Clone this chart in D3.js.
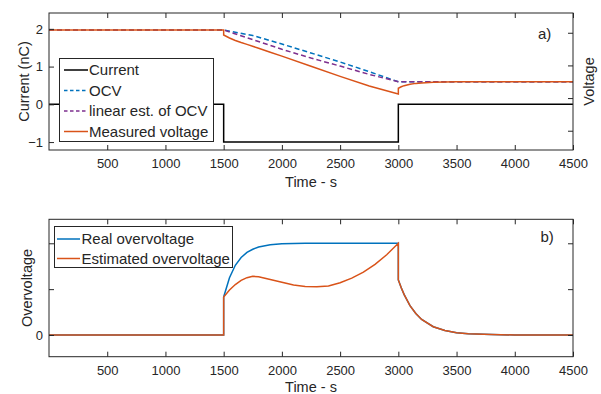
<!DOCTYPE html>
<meta charset="utf-8">
<head>
<script src="https://d3js.org/d3.v7.min.js"></script>
<style>
  body { margin: 0; background: #fff; }
  text { font-family: "Liberation Sans", Arial, sans-serif; fill: #262626; }
</style>
</head>
<body>
<svg width="601" height="394"></svg>
<script>
// ---- data ----
var xTicks = [500, 1000, 1500, 2000, 2500, 3000, 3500, 4000, 4500];
var currentTicks = [-1, 0, 1, 2];
var voltTicks = [3.4, 3.6, 3.8, 4.0];
var overTicks = [0, 1, 2];

var timeCurrent = [0, 1500, 1500, 3000, 3000, 4500];
var current = [0, 0, -1, -1, 0, 0];

var timeOcv = [0, 1500, 1750, 2000, 2250, 2500, 2750, 3000, 4500];
var ocv = [4.017, 4.017, 3.983, 3.931, 3.876, 3.821, 3.762, 3.700, 3.700];

var timeLinOcv = [0, 1500, 1750, 2000, 2250, 2500, 2750, 3000, 4500];
var linOcv = [4.017, 4.017, 3.958, 3.899, 3.845, 3.796, 3.745, 3.700, 3.700];

var timeMeas = [0, 1500, 1500, 1550, 1600, 1650, 1700, 1800, 1900, 2000, 2250, 2500, 2750, 3000,
                3000, 3025, 3050, 3100, 3150, 3200, 3300, 3400, 3500, 4500];
var measured = [4.017, 4.017, 3.986, 3.968, 3.953, 3.940, 3.929, 3.905, 3.881, 3.857, 3.795, 3.733, 3.674, 3.625,
                3.660, 3.669, 3.676, 3.685, 3.690, 3.693, 3.697, 3.699, 3.700, 3.700];

var timeReal = [0, 1500, 1500, 1550, 1600, 1650, 1700, 1750, 1800, 1900, 2000, 2200, 3000,
                3000, 3025, 3050, 3100, 3150, 3200, 3300, 3400, 3500, 3600, 3800, 4000, 4500];
var realOver = [0, 0, 0.83, 1.25, 1.52, 1.69, 1.80, 1.87, 1.92, 1.97, 1.99, 2.0, 2.0,
                1.2, 1.03, 0.88, 0.64, 0.47, 0.34, 0.18, 0.10, 0.05, 0.03, 0.01, 0, 0];

var timeEst = [0, 1500, 1500, 1550, 1600, 1650, 1700, 1750, 1800, 1900, 2000, 2100, 2200, 2300, 2400,
               2500, 2600, 2700, 2800, 2900, 3000,
               3000, 3025, 3050, 3100, 3150, 3200, 3300, 3400, 3500, 3600, 3800, 4000, 4500];
var estOver = [0, 0, 0.83, 0.98, 1.10, 1.19, 1.25, 1.28, 1.27, 1.21, 1.15, 1.09, 1.06, 1.05, 1.07,
               1.14, 1.24, 1.37, 1.54, 1.75, 2.0,
               1.2, 1.03, 0.88, 0.64, 0.47, 0.34, 0.18, 0.10, 0.05, 0.03, 0.01, 0, 0];

var blue = "#0072BD", orange = "#D95319", purple = "#7E2F8E", axisCol = "#262626";

var svg = d3.select("svg");
var left = 49, right = 573;

var x = d3.scaleLinear().domain([0, 4500]).range([left, right]);

function pairs(t, v) { return t.map(function (d, i) { return [d, v[i]]; }); }

// box plus inward ticks on all four sides
function frame(top, bottom, yLeft, leftTicks, leftFmt, yRight, rightTicks) {
    svg.append("g")
        .attr("transform", "translate(0," + bottom + ")")
        .call(d3.axisBottom(x).tickValues(xTicks).tickSizeInner(-5).tickSizeOuter(0).tickPadding(9).tickFormat(d3.format("d")))
        .call(function (g) { g.select(".domain").remove(); });
    svg.append("g")
        .attr("transform", "translate(0," + top + ")")
        .call(d3.axisTop(x).tickValues(xTicks).tickSizeInner(-5).tickSizeOuter(0).tickFormat(""))
        .call(function (g) { g.select(".domain").remove(); });
    svg.append("g")
        .attr("transform", "translate(" + left + ",0)")
        .call(d3.axisLeft(yLeft).tickValues(leftTicks).tickSizeInner(-5).tickSizeOuter(0).tickPadding(6).tickFormat(leftFmt))
        .call(function (g) { g.select(".domain").remove(); });
    svg.append("g")
        .attr("transform", "translate(" + right + ",0)")
        .call(d3.axisRight(yRight).tickValues(rightTicks).tickSizeInner(-5).tickSizeOuter(0).tickFormat(""))
        .call(function (g) { g.select(".domain").remove(); });
    svg.append("rect")
        .attr("x", left).attr("y", top)
        .attr("width", right - left).attr("height", bottom - top)
        .attr("fill", "none").attr("stroke", axisCol).attr("stroke-width", 1);
}

// ---------- panel a ----------
var topA = 13, botA = 150;
var yCur = d3.scaleLinear().domain([-1.21, 2.42]).range([botA, topA]);
var yVolt = d3.scaleLinear().domain([3.282, 4.121]).range([botA, topA]);

var line = d3.line();

svg.append("path")
    .attr("d", line(pairs(timeCurrent, current).map(function (d) { return [x(d[0]), yCur(d[1])]; })))
    .attr("fill", "none").attr("stroke", "#000").attr("stroke-width", 1.5);

svg.append("path")
    .attr("d", line(pairs(timeOcv, ocv).map(function (d) { return [x(d[0]), yVolt(d[1])]; })))
    .attr("fill", "none").attr("stroke", blue).attr("stroke-width", 1.5).attr("stroke-dasharray", "5,3");

svg.append("path")
    .attr("d", line(pairs(timeLinOcv, linOcv).map(function (d) { return [x(d[0]), yVolt(d[1])]; })))
    .attr("fill", "none").attr("stroke", purple).attr("stroke-width", 1.5).attr("stroke-dasharray", "5,3");

svg.append("path")
    .attr("d", line(pairs(timeMeas, measured).map(function (d) { return [x(d[0]), yVolt(d[1])]; })))
    .attr("fill", "none").attr("stroke", orange).attr("stroke-width", 1.5);

frame(topA, botA, yCur, currentTicks, d3.format("d"), yVolt, voltTicks);

// axis labels a
svg.append("text")
    .attr("transform", "translate(23.5," + (topA + botA) / 2 + ") rotate(-90)")
    .attr("dy", "0.35em").style("text-anchor", "middle").style("font-size", "14.5px")
    .text("Current (nC)");
svg.append("text")
    .attr("transform", "translate(589," + (topA + botA) / 2 + ") rotate(-90)")
    .attr("dy", "0.35em").style("text-anchor", "middle").style("font-size", "14.5px")
    .text("Voltage");
svg.append("text")
    .attr("x", (left + right) / 2).attr("y", 187)
    .style("text-anchor", "middle").style("font-size", "14.5px")
    .text("Time - s");
svg.append("text")
    .attr("x", 538).attr("y", 38.5).style("font-size", "15px").text("a)");

// legend a
var legA = [
    { name: "Current", color: "#000", dash: null },
    { name: "OCV", color: blue, dash: "3.5,2.5" },
    { name: "linear est. of OCV", color: purple, dash: "3.5,2.5" },
    { name: "Measured voltage", color: orange, dash: null }
];
svg.append("rect")
    .attr("x", 59.5).attr("y", 58.5).attr("width", 154).attr("height", 83)
    .attr("fill", "#fff").attr("stroke", axisCol).attr("stroke-width", 1);
legA.forEach(function (d, i) {
    var yy = 70 + i * 20.5;
    svg.append("line")
        .attr("x1", 64).attr("x2", 88).attr("y1", yy).attr("y2", yy)
        .attr("stroke", d.color).attr("stroke-width", 1.5)
        .attr("stroke-dasharray", d.dash);
    svg.append("text")
        .attr("x", 89).attr("y", yy).attr("dy", "0.35em")
        .style("font-size", "15px").text(d.name);
});

// ---------- panel b ----------
var topB = 219.3, botB = 356.7;
var yOver = d3.scaleLinear().domain([-0.473, 2.523]).range([botB, topB]);

svg.append("path")
    .attr("d", line(pairs(timeReal, realOver).map(function (d) { return [x(d[0]), yOver(d[1])]; })))
    .attr("fill", "none").attr("stroke", blue).attr("stroke-width", 1.5);
svg.append("path")
    .attr("d", line(pairs(timeEst, estOver).map(function (d) { return [x(d[0]), yOver(d[1])]; })))
    .attr("fill", "none").attr("stroke", orange).attr("stroke-width", 1.5);

frame(topB, botB, yOver, overTicks, function (d) { return d === 0 ? "0" : ""; }, yOver, overTicks);

svg.append("text")
    .attr("transform", "translate(27," + (topB + botB) / 2 + ") rotate(-90)")
    .attr("dy", "0.35em").style("text-anchor", "middle").style("font-size", "14.5px")
    .text("Overvoltage");
svg.append("text")
    .attr("x", (left + right) / 2).attr("y", 391.5)
    .style("text-anchor", "middle").style("font-size", "14.5px")
    .text("Time - s");
svg.append("text")
    .attr("x", 540.5).attr("y", 242).style("font-size", "15px").text("b)");

// legend b
var legB = [
    { name: "Real overvoltage", color: blue },
    { name: "Estimated overvoltage", color: orange }
];
svg.append("rect")
    .attr("x", 54.5).attr("y", 226.5).attr("width", 178).attr("height", 41)
    .attr("fill", "#fff").attr("stroke", axisCol).attr("stroke-width", 1);
legB.forEach(function (d, i) {
    var yy = 239 + i * 19.5;
    svg.append("line")
        .attr("x1", 57).attr("x2", 80).attr("y1", yy).attr("y2", yy)
        .attr("stroke", d.color).attr("stroke-width", 1.5);
    svg.append("text")
        .attr("x", 81.5).attr("y", yy).attr("dy", "0.35em")
        .style("font-size", "15px").text(d.name);
});

// tick label styling
svg.selectAll(".tick text").style("font-size", "13px").attr("fill", axisCol);
svg.selectAll(".tick line").attr("stroke", axisCol);
</script>
</body>
</html>
